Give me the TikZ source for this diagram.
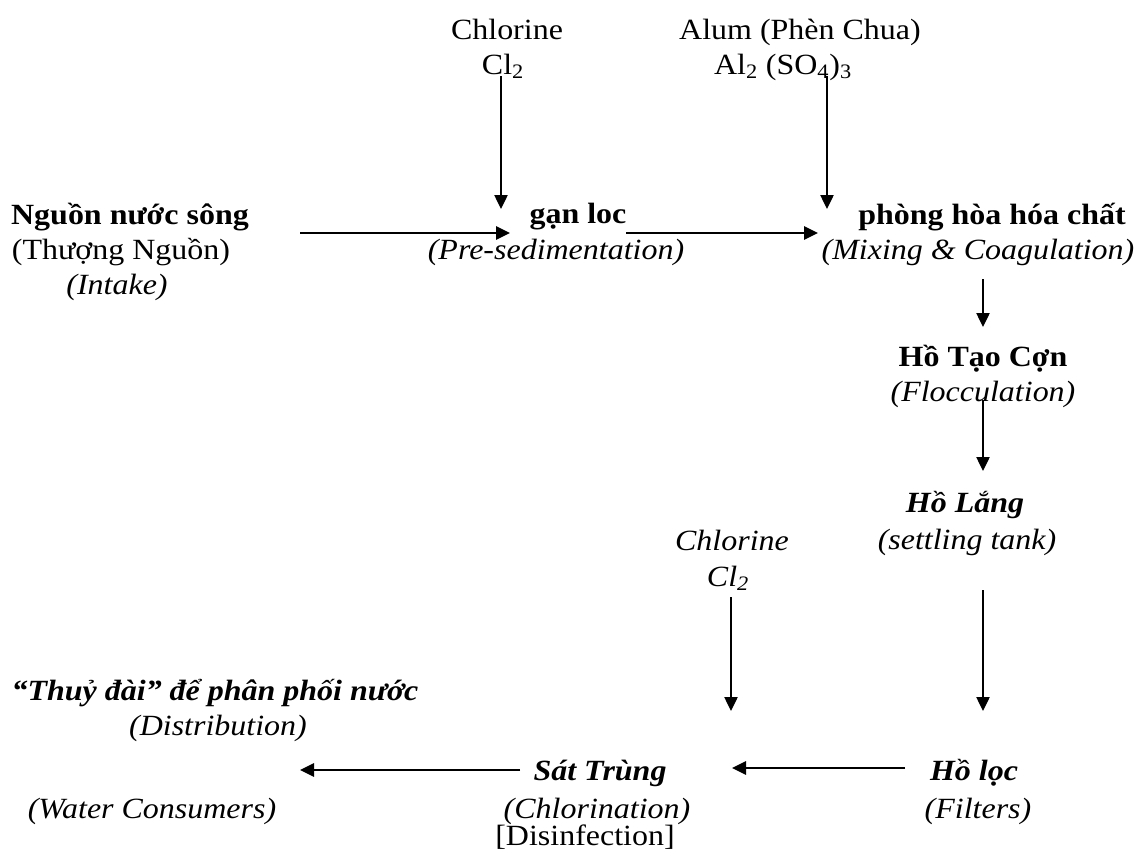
\documentclass[tikz,border=0pt]{standalone}
\usepackage{fontspec}
\setmainfont{Liberation Serif}[FakeStretch=1.09]
\usetikzlibrary{arrows.meta}

\newcommand\flowsize{\fontsize{22}{26}\selectfont}

\tikzset{%
  every line/.style={
    inner sep=0pt,
    anchor=base,
    font=\flowsize
  },
  stage name/.style={font=\flowsize\bfseries},
  stage slanted/.style={font=\flowsize\bfseries\itshape},
  stage note/.style={font=\flowsize\itshape},
  flow/.style={->, line width=1pt},
  flow wide/.style={->, line width=1.4pt},
}

\begin{document}
\begin{tikzpicture}[x=0.75pt, y=-0.75pt, >={Triangle[length=10.5pt,width=10pt]},
  every node/.style={every line}]

\useasboundingbox (0,0) rectangle (1136,850);

% chemicals dosed from above
\node (chlA) at (507,39) {Chlorine};
\node (chlA-formula) at (503,74) {Cl\textsubscript{2}};
\node (alum) at (800,39) {Alum (Phèn Chua)};
\node (alum-formula) at (783,74) {Al\textsubscript{2} (SO\textsubscript{4})\textsubscript{3}};

\node [stage note] (chlB) at (732,550) {Chlorine};
\node [stage note] (chlB-formula) at (728,586) {Cl\textsubscript{2}};

% process stages
\foreach \n/\x/\y/\t in {intake/130/224/{Nguồn nước sông},
                          presed/578/223/{gạn loc},
                          mixing/992/224/{phòng hòa hóa chất},
                          floc/983/366/{Hồ Tạo Cợn}}
  \node [stage name] (\n) at (\x,\y) {\t};

\foreach \n/\x/\y/\t in {settle/965/512/{Hồ Lắng},
                          filters/974/780/{Hồ lọc},
                          chlor/600/780/{Sát Trùng},
                          dist/215/700/{“Thuỷ đài” để phân phối nước}}
  \node [stage slanted] (\n) at (\x,\y) {\t};

\node (intake-vi) at (121,259) {(Thượng Nguồn)};
\node (chlor-dis) at (585,845) {[Disinfection]};

\foreach \n/\x/\y/\t in {intake-en/117/294/{(Intake)},
                          presed-en/556/259/{(Pre-sedimentation)},
                          mixing-en/978/259/{(Mixing \& Coagulation)},
                          floc-en/983/401/{(Flocculation)},
                          settle-en/967/549/{(settling tank)},
                          filters-en/978/818/{(Filters)},
                          chlor-en/597/818/{(Chlorination)},
                          dist-en/218/735/{(Distribution)},
                          consumers/152/818/{(Water Consumers)}}
  \node [stage note] (\n) at (\x,\y) {\t};

% dosing
\draw [flow] ([shift={(-2,2)}]chlA-formula.base) -- ++(0,133);
\draw [flow] ([shift={(44,2)}]alum-formula.base) -- ++(0,133);
\draw [flow] ([shift={(3,11)}]chlB-formula.base) -- ++(0,114);

% main line
\draw [flow wide] ([shift={(170,9)}]intake.base) -- ++(210,0);
\draw [flow wide] ([shift={(48,10)}]presed.base) -- ++(192,0);
\draw [flow] ([shift={(5,20)}]mixing-en.base) -- ++(0,48);
\draw [flow] ([shift={(0,34)}]floc.base) -- ++(0,71);
\draw [flow] ([shift={(16,41)}]settle-en.base) -- ++(0,121);
\draw [flow wide] ([shift={(-69,-12)}]filters.base) -- ++(-173,0);
\draw [flow wide] ([shift={(-80,-10)}]chlor.base) -- ++(-220,0);

\end{tikzpicture}
\end{document}
